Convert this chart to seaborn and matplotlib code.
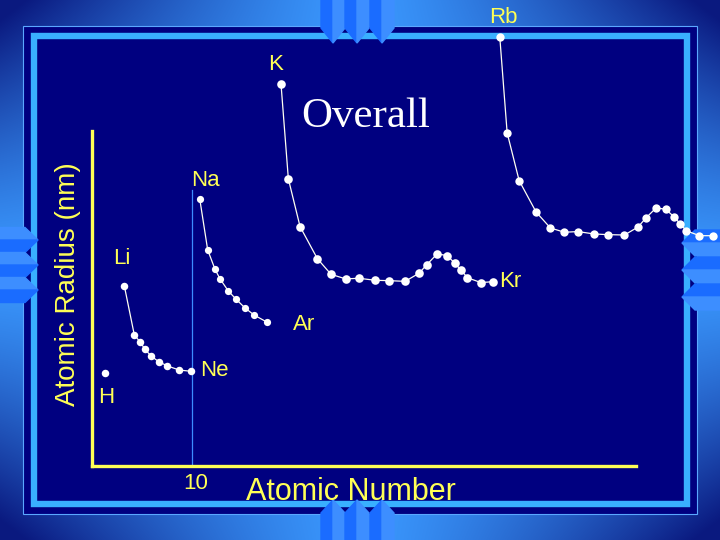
import numpy as np
import matplotlib
matplotlib.use("Agg")
import matplotlib.pyplot as plt
from matplotlib.patches import Rectangle, Polygon
import seaborn as sns

# atomic number (as drawn) vs atomic radius (pm, schematic)
h_x = [1.00]
h_y = [54]
p2_x = [3.00, 4.03, 4.65, 5.14, 5.76, 6.56, 7.45, 8.69, 9.90]
p2_y = [105, 76.5, 72.1, 68.0, 64.1, 60.8, 58.3, 55.9, 55.2]
p3_x = [10.80, 11.62, 12.38, 12.90, 13.75, 14.55, 15.48, 16.41, 17.79]
p3_y = [155.6, 125.9, 114.6, 109.0, 102.0, 97.2, 92.1, 88.0, 83.7]
p4_x = [19.20, 19.96, 21.17, 22.96, 24.37, 25.89, 27.24, 28.96, 30.34, 32.03,
        33.47, 34.27, 35.34, 36.39, 37.17, 37.82, 38.47, 39.86, 41.16]
p4_y = [222.6, 167.3, 139.5, 120.8, 111.7, 109.0, 109.4, 108.2, 108.0, 107.6,
        112.3, 117.3, 123.6, 122.6, 118.1, 114.1, 109.7, 106.9, 107.4]
p5_x = [41.82, 42.58, 43.82, 45.57, 47.05, 48.50, 49.89, 51.57, 53.02, 54.71,
        56.12, 56.92, 57.98, 58.98, 59.84, 60.46, 61.09, 62.46, 63.84]
p5_y = [249.8, 194.1, 166.3, 148.0, 138.7, 136.2, 136.6, 135.2, 134.8, 134.6,
        139.3, 144.5, 150.4, 149.6, 145.1, 141.2, 137.1, 134.2, 134.2]

element_labels = ["H", "Li", "Ne", "Na", "Ar", "K", "Kr", "Rb"]

yellow = "#ffff55"
navy = "#000080"
band = "#39b0ff"

fig = plt.figure(figsize=(7.2, 5.4), dpi=100)

# ---- slide background ----
bg = fig.add_axes([0, 0, 1, 1])
bg.set_xlim(0, 720)
bg.set_ylim(540, 0)
bg.axis("off")
xx, yy = np.meshgrid(np.linspace(-1, 1, 720), np.linspace(-1, 1, 540))
t = np.clip((np.abs(xx) * np.abs(yy)) ** 1.3 * 1.1, 0, 1)[..., None]
light = np.array([0.23, 0.60, 1.0])
dark = np.array([0.04, 0.10, 0.50])
bg.imshow(light * (1 - t) + dark * t, extent=(0, 720, 540, 0), aspect="auto", zorder=0)
bg.add_patch(Rectangle((23, 26), 674, 488, facecolor=navy, edgecolor="#5aa8ff", lw=0.8, zorder=1))
bg.add_patch(Rectangle((34, 35.5), 653, 468.5, facecolor="none", edgecolor=band, lw=4.6, zorder=2))

dk, lt = "#1a6cff", "#3d8eff"
for cx in [333, 357, 382]:
    bg.add_patch(Polygon([(cx - 12, 0), (cx, 0), (cx, 43), (cx - 12, 28)], color=dk, zorder=3))
    bg.add_patch(Polygon([(cx, 0), (cx + 12, 0), (cx + 12, 28), (cx, 43)], color=lt, zorder=3))
    bg.add_patch(Polygon([(cx - 12, 540), (cx, 540), (cx, 500), (cx - 12, 513)], color=dk, zorder=3))
    bg.add_patch(Polygon([(cx, 540), (cx + 12, 540), (cx + 12, 513), (cx, 500)], color=lt, zorder=3))
for cy in [240, 265, 290]:
    bg.add_patch(Polygon([(0, cy - 12.5), (25, cy - 12.5), (38, cy), (0, cy)], color=lt, zorder=3))
    bg.add_patch(Polygon([(0, cy), (38, cy), (25, cy + 12.5), (0, cy + 12.5)], color=dk, zorder=3))
for cy in [243, 270, 297]:
    bg.add_patch(Polygon([(720, cy - 13), (695, cy - 13), (682, cy), (720, cy)], color=dk, zorder=3))
    bg.add_patch(Polygon([(720, cy), (682, cy), (695, cy + 13), (720, cy + 13)], color=lt, zorder=3))

# ---- chart ----
ax = fig.add_axes([92 / 720, 74 / 540, 544 / 720, 335 / 540])
ax.set_facecolor("none")
ax.set_xlim(-0.34, 55.9)
ax.set_ylim(0, 195.2)

ax.axvline(10, ymin=0, ymax=0.824, color="#3c8cff", lw=0.9, zorder=1)

periods = [(h_x, h_y, 5.4), (p2_x, p2_y, 5.4), (p3_x, p3_y, 5.2), (p4_x, p4_y, 6.2), (p5_x, p5_y, 6.0)]
for xs, ys, ms in periods:
    sns.lineplot(x=xs, y=ys, sort=False, estimator=None, color="#fffff0", lw=0.9,
                 marker="o", markersize=ms, markeredgewidth=0, markerfacecolor="white",
                 clip_on=False, ax=ax, zorder=3)

anchors = [(h_x[0], h_y[0]), (p2_x[0], p2_y[0]), (p2_x[-1], p2_y[-1]), (p3_x[0], p3_y[0]),
           (p3_x[-1], p3_y[-1]), (p4_x[0], p4_y[0]), (p4_x[-1], p4_y[-1]), (p5_x[0], p5_y[0])]
offsets = [(0.7, -17.5), (-1.7, 19.4), (16.6, 0.9), (3.8, 13), (26.4, -1.9), (-3.6, 13.7), (12, -0.2), (2.4, 13.9)]
for name, xy, off in zip(element_labels, anchors, offsets):
    ax.annotate(name, xy=xy, xytext=off, textcoords="offset points", ha="center", va="center",
                color=yellow, fontsize=16, family="Liberation Sans", annotation_clip=False)

ax.text(0.5037, 1.0418, "Overall", transform=ax.transAxes, ha="center", va="center",
        color="white", fontsize=31, family="Liberation Serif")

for s in ["top", "right"]:
    ax.spines[s].set_visible(False)
for s in ["left", "bottom"]:
    ax.spines[s].set_color(yellow)
    ax.spines[s].set_linewidth(2.4)

ax.set_yticks([])
ax.set_xticks([10.4])
ax.set_xticklabels(["10"], fontsize=16, color=yellow, family="Liberation Sans")
ax.tick_params(axis="x", length=0, pad=5)

ax.set_xlabel("Atomic Number", fontsize=22, color=yellow, family="Liberation Sans", va="center")
ax.xaxis.set_label_coords((351 - 92) / 544, (466 - 492) / 335)
ax.set_ylabel("Atomic Radius (nm)", fontsize=20, color=yellow, family="Liberation Sans", va="center")
ax.yaxis.set_label_coords((68 - 92) / 544, (466 - 284) / 335)

fig.savefig("out.png", dpi=100)
